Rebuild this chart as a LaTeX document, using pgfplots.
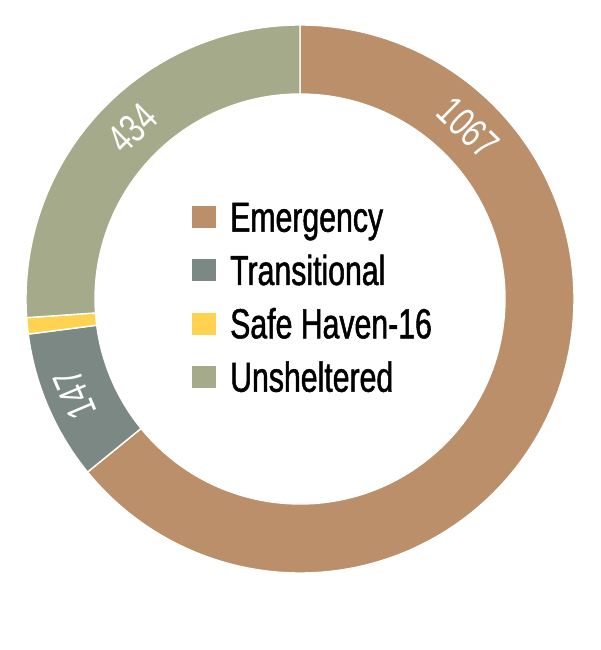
\documentclass[border=0pt]{standalone}
\usepackage{pgfplots}
\pgfplotsset{compat=1.18}
\usepackage{fontspec}
\setmainfont{Liberation Sans}[FakeStretch=0.72]
\newfontfamily\legfont{Liberation Sans}[FakeStretch=0.72, FakeBold=1.2]
\definecolor{emer}{HTML}{BC8F6B}
\definecolor{trans}{HTML}{7C8883}
\definecolor{safe}{HTML}{FFD24F}
\definecolor{unsh}{HTML}{A5AB8A}
% data
\def\vEmer{1067}
\def\vTrans{147}
\def\vSafe{16}
\def\vUnsh{434}
\pgfmathsetmacro{\tot}{\vEmer+\vTrans+\vSafe+\vUnsh}
\pgfmathsetmacro{\aA}{90}
\pgfmathsetmacro{\aB}{\aA-\vEmer/\tot*360}
\pgfmathsetmacro{\aC}{\aB-\vTrans/\tot*360}
\pgfmathsetmacro{\aD}{\aC-\vSafe/\tot*360}
\pgfmathsetmacro{\aE}{\aD-\vUnsh/\tot*360}
\def\ro{274}
\def\ri{205}
\def\cx{300}
\def\cy{351}
\newcommand{\donutwedge}[3]{%
  \fill[#1, draw=white, line width=1.4pt]
    (axis cs:{\cx+\ro*cos(#2)},{\cy+\ro*sin(#2)})
    arc[start angle=#2, end angle=#3, radius=\ro]
    -- (axis cs:{\cx+\ri*cos(#3)},{\cy+\ri*sin(#3)})
    arc[start angle=#3, end angle=#2, radius=\ri] -- cycle;}
\begin{document}
\begin{tikzpicture}
\begin{axis}[x=1pt, y=1pt, xmin=0, xmax=600, ymin=0, ymax=650,
  hide axis, clip=false]
\addplot[draw=none] coordinates {(0,0) (600,650)};
\donutwedge{emer}{\aA}{\aB}
\donutwedge{trans}{\aB}{\aC}
\donutwedge{safe}{\aC}{\aD}
\donutwedge{unsh}{\aD}{\aE}
% value labels
\node[white, rotate=45.5-90, font=\fontsize{41}{41}\selectfont]
  at (axis cs:{\cx+240*cos(45.5)},{\cy+240*sin(45.5)}) {\vEmer};
\node[white, rotate=203-90, font=\fontsize{41}{41}\selectfont]
  at (axis cs:{\cx+245*cos(203)},{\cy+245*sin(203)}) {\vTrans};
\node[white, rotate=134.5-90, font=\fontsize{41}{41}\selectfont]
  at (axis cs:{\cx+239*cos(134.5)},{\cy+239*sin(134.5)}) {\vUnsh};
% legend
\fill[emer] (axis cs:192,422) rectangle (axis cs:216,444);
\fill[trans] (axis cs:192,368.7) rectangle (axis cs:216,390.7);
\fill[safe] (axis cs:192,315.3) rectangle (axis cs:216,337.3);
\fill[unsh] (axis cs:192,262) rectangle (axis cs:216,284);
\node[anchor=base west, inner sep=0pt, font=\legfont\fontsize{42}{42}\selectfont] at (axis cs:230,418.3) {Emergency};
\node[anchor=base west, inner sep=0pt, font=\legfont\fontsize{42}{42}\selectfont] at (axis cs:230,365) {Transitional};
\node[anchor=base west, inner sep=0pt, font=\legfont\fontsize{42}{42}\selectfont] at (axis cs:230,311.7) {Safe Haven-16};
\node[anchor=base west, inner sep=0pt, font=\legfont\fontsize{42}{42}\selectfont] at (axis cs:230,258.3) {Unsheltered};
\end{axis}
\path (current axis.south west) rectangle (current axis.north east);
\end{tikzpicture}
\end{document}
